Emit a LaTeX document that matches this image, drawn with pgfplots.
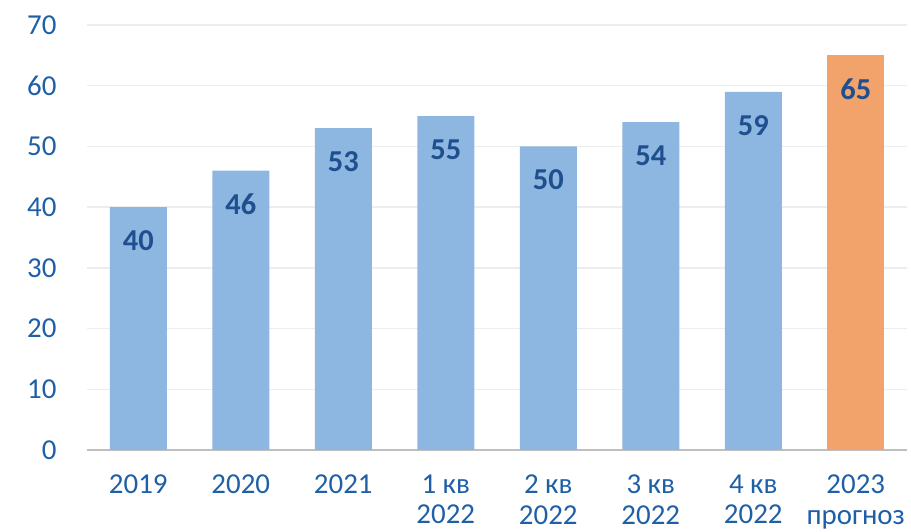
\documentclass[border=0pt]{standalone}
\usepackage{fontspec}
\setmainfont{Carlito}
\usepackage{pgfplots}
\pgfplotsset{compat=1.18}
\definecolor{barblue}{HTML}{8DB6E0}
\definecolor{barorange}{HTML}{F2A36C}
\definecolor{ticktext}{HTML}{1F5FA6}
\definecolor{labeltext}{HTML}{1F4F8E}
\definecolor{gridc}{HTML}{EDEDED}
\definecolor{axisc}{HTML}{BFBFBF}
\begin{document}
\begin{tikzpicture}
\path[use as bounding box] (0,0) rectangle (911bp,532bp);
\begin{axis}[
  at={(87bp,82bp)}, anchor=south west,
  scale only axis, width=820bp, height=425bp,
  xmin=-0.5, xmax=7.5, ymin=0, ymax=70,
  ytick={0,10,...,70},
  xtick={0,...,7},
  xticklabels={{2019},{2020},{2021},{1 кв\\2022},{2 кв\\2022},{3 кв\\2022},{4 кв\\2022},{2023\\прогноз}},
  /pgf/number format/assume math mode=true,
  axis x line*=bottom, axis y line*=left,
  x axis line style={draw=axisc, line width=2.5bp, -},
  y axis line style={draw=none},
  major tick length=0pt, tick style={draw=none},
  ymajorgrids, grid style={gridc, line width=1.5bp},
  ticklabel style={font=\fontsize{29}{31}\selectfont, text=ticktext},
  xticklabel style={align=center, anchor=north, yshift=-21bp},
  yticklabel style={anchor=east, xshift=-27bp},
  ybar, bar width=57bp,
  nodes near coords,
  nodes near coords style={anchor=north, yshift=-20bp, font=\bfseries\fontsize{30.5}{33}\selectfont, text=labeltext},
]
\addplot[fill=barblue, draw=none, bar shift=0pt] coordinates {(0,40) (1,46) (2,53) (3,55) (4,50) (5,54) (6,59)};
\addplot[fill=barorange, draw=none, bar shift=0pt] coordinates {(7,65)};
\end{axis}
\end{tikzpicture}
\end{document}
